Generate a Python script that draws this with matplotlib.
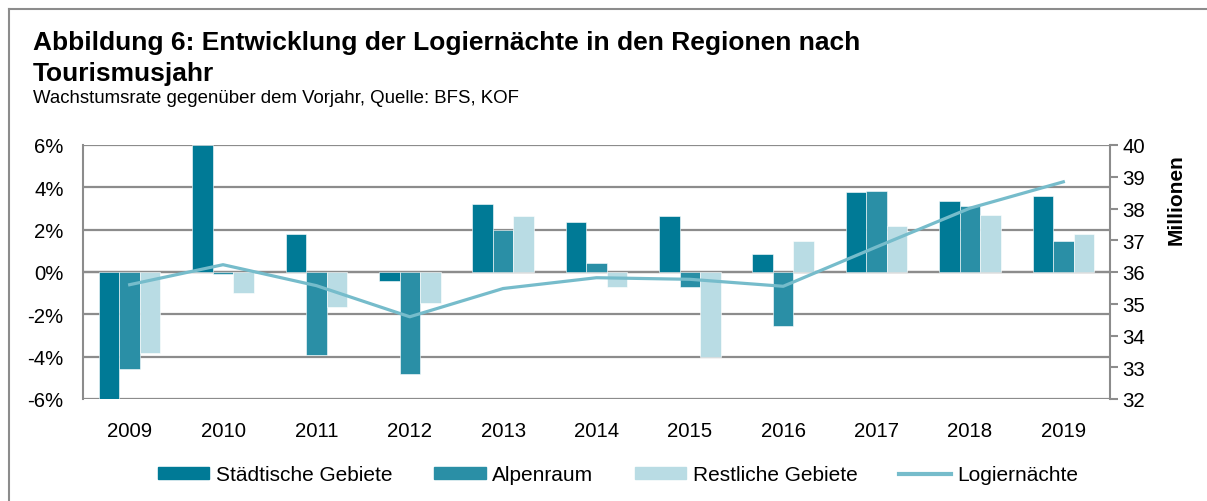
import numpy as np
import matplotlib
matplotlib.use('Agg')
import matplotlib.pyplot as plt
from matplotlib.lines import Line2D
from matplotlib.patches import Patch

plt.rcParams['font.family'] = ['Liberation Sans', 'DejaVu Sans']
plt.rcParams['axes.unicode_minus'] = False

# data
jahre = ['2009', '2010', '2011', '2012', '2013', '2014', '2015', '2016', '2017', '2018', '2019']
staedtisch = [-6.0, 6.0, 1.81, -0.41, 3.22, 2.36, 2.63, 0.83, 3.78, 3.34, 3.61]
alpenraum = [-4.58, -0.08, -3.92, -4.84, 2.0, 0.42, -0.69, -2.55, 3.83, 3.13, 1.47]
restliche = [-3.83, -0.97, -1.66, -1.47, 2.66, -0.70, -4.03, 1.45, 2.16, 2.70, 1.81]
logiernaechte = [35.60, 36.23, 35.57, 34.59, 35.48, 35.82, 35.77, 35.55, 36.79, 38.01, 38.84]

c_st = '#007A96'
c_alp = '#2A8FA6'
c_rest = '#B9DCE4'
c_line = '#76BCCB'
grau = '#8C8C8C'

fig = plt.figure(figsize=(12.07, 5.02), dpi=100)
W, H = 1207, 502

# frame (top and left edge visible)
fig.add_artist(Line2D([9 / W, 9 / W], [0, 1 - 10 / H], color=grau, lw=1.5))
fig.add_artist(Line2D([9 / W, 1], [1 - 10 / H, 1 - 10 / H], color=grau, lw=1.5))

fig.text(33 / W, 1 - 50 / H, 'Abbildung 6: Entwicklung der Logiernächte in den Regionen nach',
         fontsize=19, fontweight='bold', va='baseline')
fig.text(33 / W, 1 - 80.5 / H, 'Tourismusjahr', fontsize=19, fontweight='bold', va='baseline')
fig.text(33 / W, 1 - 103.3 / H, 'Wachstumsrate gegenüber dem Vorjahr, Quelle: BFS, KOF',
         fontsize=13.4, va='baseline')

ax = fig.add_axes([83 / W, 1 - 400 / H, (1110 - 83) / W, (400 - 146) / H])
x = np.arange(len(jahre))
bw = 0.22
ax.bar(x - bw, staedtisch, bw, color=c_st, edgecolor='white', linewidth=0.4, zorder=3)
ax.bar(x, alpenraum, bw, color=c_alp, edgecolor='white', linewidth=0.4, zorder=3)
ax.bar(x + bw, restliche, bw, color=c_rest, edgecolor='white', linewidth=0.4, zorder=3)

ax.set_xlim(-0.5, len(jahre) - 0.5)
ax.set_ylim(-6, 6)
ax.set_yticks(range(-6, 7, 2))
ax.set_yticklabels([f'{v}%' for v in range(-6, 7, 2)])
ax.set_xticks(x)
ax.set_xticklabels(jahre)
ax.tick_params(axis='both', length=0, labelsize=14.7, colors='black')
ax.tick_params(axis='x', pad=16)
ax.tick_params(axis='y', pad=14)
ax.grid(axis='y', color=grau, lw=1.6, zorder=1)
for s in ['top', 'right', 'bottom']:
    ax.spines[s].set_visible(False)
ax.spines['left'].set_color(grau)
ax.spines['left'].set_linewidth(1.5)
ax.axhline(0, color=grau, lw=1.6, zorder=2)

ax2 = ax.twinx()
ax2.plot(x, logiernaechte, color=c_line, lw=2.3, zorder=5)
ax2.set_ylim(32, 40)
ax2.set_yticks(range(32, 41))
ax2.tick_params(axis='y', length=6, width=1.5, color=grau, labelsize=14.7, pad=3)
for s in ['top', 'left', 'bottom']:
    ax2.spines[s].set_visible(False)
ax2.spines['right'].set_color(grau)
ax2.spines['right'].set_linewidth(1.5)

fig.text(1176 / W, 1 - 200 / H, 'Millionen', rotation=90, fontsize=15, fontweight='bold',
         ha='center', va='center')

handles = [Patch(color=c_st), Patch(color=c_alp), Patch(color=c_rest),
           Line2D([0], [0], color=c_line, lw=3)]
labels = ['Städtische Gebiete', 'Alpenraum', 'Restliche Gebiete', 'Logiernächte']
fig.legend(handles, labels, loc='center', bbox_to_anchor=(618 / W, 1 - 476 / H), ncol=4,
           frameon=False, fontsize=15, handlelength=2.48, handleheight=0.5,
           handletextpad=0.31, columnspacing=2.0)

fig.savefig('out.png', dpi=100)
